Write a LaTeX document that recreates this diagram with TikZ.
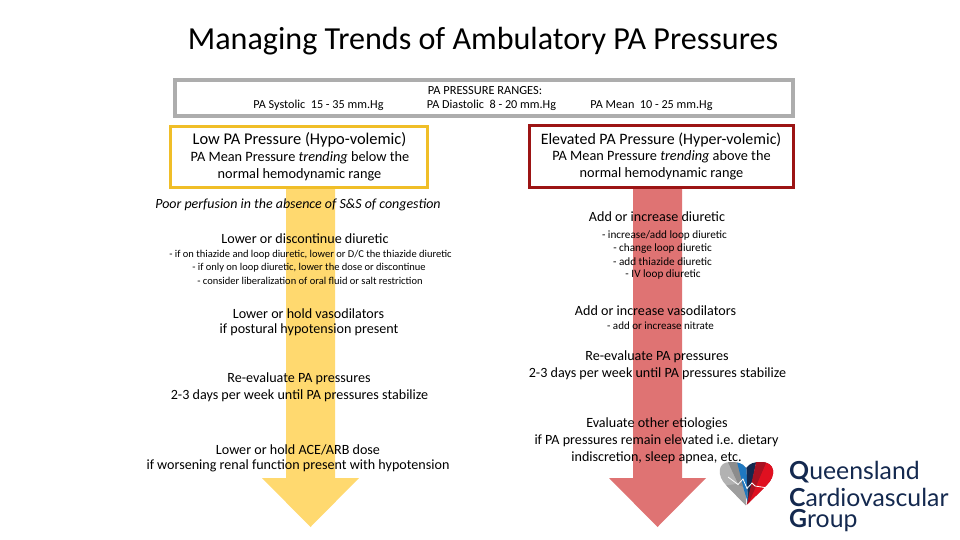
\documentclass[tikz,border=0pt]{standalone}
\usepackage{fontspec}
\setmainfont{Carlito}
\newfontfamily\logofont{Lato}
\definecolor{ygold}{HTML}{F0BE28}
\definecolor{yfill}{HTML}{FFD96F}
\definecolor{rdark}{HTML}{9C1414}
\definecolor{rfill}{HTML}{DF7373}
\definecolor{navy}{HTML}{14294F}
\definecolor{hblue}{HTML}{1F78C0}
\definecolor{hdark}{HTML}{A81222}
\definecolor{hred}{HTML}{E01020}
\tikzset{
  x=1pt,y=-1pt,
  txt/.style={inner sep=0pt,align=center,text=black,font=\fontsize{#1}{#1}\selectfont},
  txt/.default=12,
  greybox/.style={draw=black!32,line width=3.6pt,fill=white},
  goldbox/.style={draw=ygold,line width=3pt,fill=white},
  redbox/.style={draw=rdark,line width=3pt,fill=white},
  logotxt/.style={inner sep=0pt,anchor=west,text=navy,font=\logofont\fontsize{24.8}{25}\selectfont},
}
\begin{document}
\begin{tikzpicture}
\useasboundingbox (0,0) rectangle (960,540);
\fill[white] (0,0) rectangle (960,540);
% arrows
\fill[yfill] (286,187)--(335,187)--(335,478)--(359,478)--(310.5,527)--(262,478)--(286,478)--cycle;
\fill[rfill] (633,187)--(682,187)--(682,478)--(706,478)--(657.5,527)--(609,478)--(633,478)--cycle;
% boxes
\draw[greybox] (175,80) rectangle (793,116);
\draw[goldbox] (170.5,126.5) rectangle (427,187);
\draw[redbox] (529,125.5) rectangle (793.5,187);
% title
\node[txt=32.1] (title) at (483,41.5) {Managing Trends of Ambulatory PA Pressures};
% ranges
\node[txt=12.4] (rangehead) at (485,91) {PA PRESSURE RANGES:};
\node[txt=12.2] (sys) at (318.5,105.5) {PA Systolic\ \ 15 - 35 mm.Hg};
\node[txt=12.2] (dia) at (491.5,105.5) {PA Diastolic\ \ 8 - 20 mm.Hg};
\node[txt=12.2] (mean) at (651.5,105.5) {PA Mean\ \ 10 - 25 mm.Hg};
% left
\node[txt=16.4] (lowhead) at (299.5,140) {Low PA Pressure (Hypo-volemic)};
\node[txt=14.3] (lowsub1) at (300,157.5) {PA Mean Pressure \textit{trending} below the};
\node[txt=14.3] (lowsub2) at (299.5,175) {normal hemodynamic range};
\node[txt=13.95] (poor) at (298,205) {\textit{Poor perfusion in the absence of S\&S of congestion}};
\node[txt=14.1] (lowerdi) at (305,239) {Lower or discontinue diuretic};
\node[txt=10.5] (ld1) at (310.5,254.5) {- if on thiazide and loop diuretic, lower or D/C the thiazide diuretic};
\node[txt=10.5] (ld2) at (309,267.5) {- if only on loop diuretic, lower the dose or discontinue};
\node[txt=10.5] (ld3) at (310,280.5) {- consider liberalization of oral fluid or salt restriction};
\node[txt=14.1] (vaso1) at (308.5,314) {Lower or hold vasodilators};
\node[txt=14.1] (vaso2) at (309,330) {if postural hypotension present};
\node[txt=14.1] (re1) at (299,379) {Re-evaluate PA pressures};
\node[txt=14.1] (re2) at (299.5,395.5) {2-3 days per week until PA pressures stabilize};
\node[txt=14.1] (ace1) at (298,450) {Lower or hold ACE/ARB dose};
\node[txt=14.1] (ace2) at (298,466) {if worsening renal function present with hypotension};
% right
\node[txt=15.9] (elhead) at (661,140) {Elevated PA Pressure (Hyper-volemic)};
\node[txt=14.3] (elsub1) at (661.5,157) {PA Mean Pressure \textit{trending} above the};
\node[txt=14.3] (elsub2) at (661.5,173.5) {normal hemodynamic range};
\node[txt=14.1] (add) at (657,217) {Add or increase diuretic};
\node[txt=11.2] (a1) at (664.5,235.5) {- increase/add loop diuretic};
\node[txt=11.2] (a2) at (662.5,249) {- change loop diuretic};
\node[txt=11.2] (a3) at (662.5,262) {- add thiazide diuretic};
\node[txt=11.2] (a4) at (663,275) {- IV loop diuretic};
\node[txt=14.1] (addv) at (655.5,311) {Add or increase vasodilators};
\node[txt=11] (addn) at (660.5,326) {- add or increase nitrate};
\node[txt=14.1] (rr1) at (657,357) {Re-evaluate PA pressures};
\node[txt=14.1] (rr2) at (657.5,373.5) {2-3 days per week until PA pressures stabilize};
\node[txt=14.1] (ev1) at (657,424) {Evaluate other etiologies};
\node[txt=14.1] (ev2) at (656.5,440.5) {if PA pressures remain elevated i.e. dietary};
\node[txt=14.1] (ev3) at (656.5,457.5) {indiscretion, sleep apnea, etc.};
% heart logo
\begin{scope}
\clip (746,505.5) -- (726,485) .. controls (717,476) and (717,462) .. (730,462) .. controls (737,462) and (743,463) .. (746,468) .. controls (750,463) and (754,462) .. (761,462) .. controls (776,462) and (776,476) .. (767,485) -- cycle;
\fill[black!30] (715,458) rectangle (746,508);
\fill[black!45] (726,458) -- (737,458) -- (746,490) -- (742,492) -- cycle;
\fill[black!38] (722,486) -- (746,508) -- (746,488) -- (736,484) -- cycle;
\fill[hblue] (736,458) -- (746,458) -- (748,503) -- (744,490) -- cycle;
\fill[navy] (746,458) -- (757,458) -- (748,503) -- cycle;
\fill[hdark] (757,458) -- (780,458) -- (780,470) -- (746,508) -- cycle;
\fill[hred] (768,458) -- (780,458) -- (780,490) -- (746,508) -- cycle;
\fill[hdark] (760,458) -- (768,458) -- (748,505) -- cycle;
\end{scope}
\draw[white,line width=.8pt] (728,477) -- (738,484.5) -- (743,479) -- (747,488.5) -- (752,483) -- (755,486) -- (768,488);
% logo text
\node[logotxt] (q1) at (789,472.5) {\textbf{Q}ueensland};
\node[logotxt] (q2) at (789,497) {\textbf{C}ardiovascular};
\node[logotxt] (q3) at (789,521) {\textbf{G}roup};
\end{tikzpicture}
\end{document}
